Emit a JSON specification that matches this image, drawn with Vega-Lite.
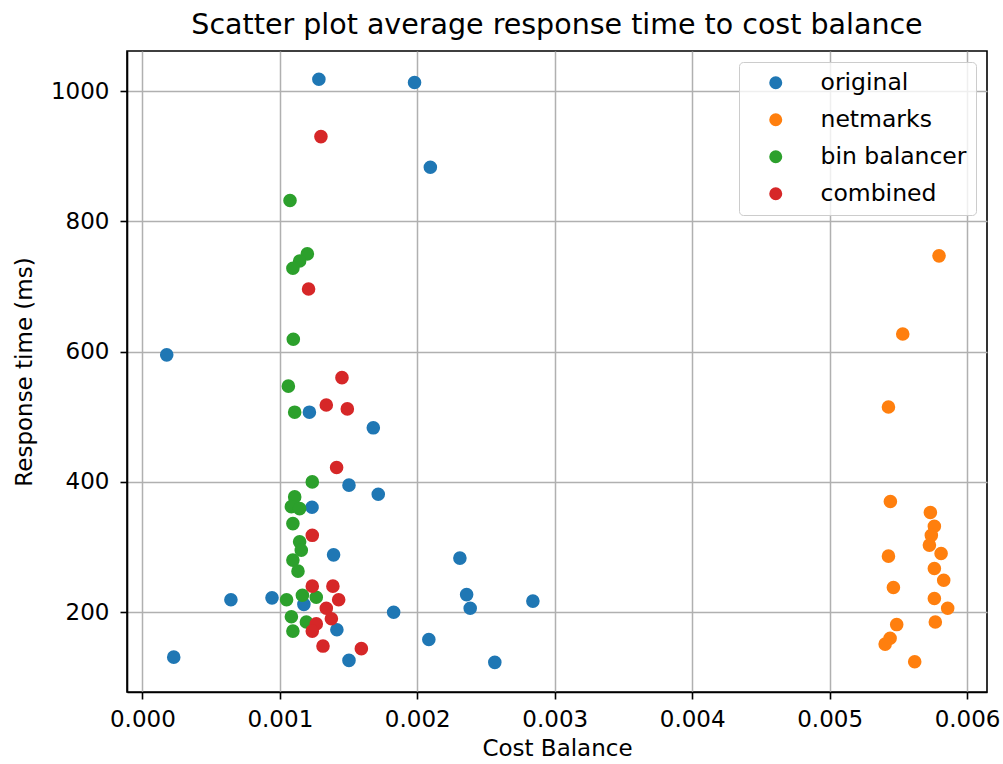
{
  "$schema": "https://vega.github.io/schema/vega-lite/v6.json",
  "width": 860,
  "height": 641,
  "autosize": {"type": "none"},
  "padding": {"left": 127, "top": 51, "right": 16, "bottom": 72},
  "background": "white",
  "title": {
    "text": "Scatter plot average response time to cost balance",
    "font": "DejaVu Sans",
    "fontSize": 28.5,
    "fontWeight": "normal",
    "color": "black",
    "anchor": "middle",
    "frame": "group",
    "offset": 12
  },
  "config": {
    "view": {"stroke": "black", "strokeWidth": 1.6},
    "axis": {
      "labelFont": "DejaVu Sans",
      "titleFont": "DejaVu Sans",
      "labelFontSize": 23,
      "titleFontSize": 23,
      "titleFontWeight": "normal",
      "labelColor": "black",
      "titleColor": "black",
      "domainColor": "black",
      "domainWidth": 1.6,
      "tickColor": "black",
      "tickWidth": 1.6,
      "tickSize": 7,
      "gridColor": "#b0b0b0",
      "gridWidth": 1.5,
      "gridOpacity": 1,
      "zindex": 1
    },
    "legend": {
      "labelFont": "DejaVu Sans",
      "labelFontSize": 23.5,
      "labelColor": "black"
    }
  },
  "data": {
    "values": [
      {"s": "original", "x": 0.001284, "y": 1018},
      {"s": "original", "x": 0.00198, "y": 1013},
      {"s": "original", "x": 0.002095, "y": 883},
      {"s": "original", "x": 0.000177, "y": 595},
      {"s": "original", "x": 0.001215, "y": 507},
      {"s": "original", "x": 0.00168, "y": 483},
      {"s": "original", "x": 0.001503, "y": 395},
      {"s": "original", "x": 0.001716, "y": 381},
      {"s": "original", "x": 0.001234, "y": 361},
      {"s": "original", "x": 0.001391, "y": 288},
      {"s": "original", "x": 0.00231, "y": 283},
      {"s": "original", "x": 0.002359, "y": 227},
      {"s": "original", "x": 0.000943, "y": 222},
      {"s": "original", "x": 0.000644, "y": 219},
      {"s": "original", "x": 0.002841, "y": 217},
      {"s": "original", "x": 0.001175, "y": 212},
      {"s": "original", "x": 0.002385, "y": 206},
      {"s": "original", "x": 0.001828, "y": 200},
      {"s": "original", "x": 0.001415, "y": 173},
      {"s": "original", "x": 0.002084, "y": 158},
      {"s": "original", "x": 0.000228, "y": 131},
      {"s": "original", "x": 0.001503, "y": 126},
      {"s": "original", "x": 0.002564, "y": 123},
      {"s": "netmarks", "x": 0.005796, "y": 747},
      {"s": "netmarks", "x": 0.005532, "y": 627},
      {"s": "netmarks", "x": 0.005428, "y": 515},
      {"s": "netmarks", "x": 0.005442, "y": 370},
      {"s": "netmarks", "x": 0.005733, "y": 353},
      {"s": "netmarks", "x": 0.005762, "y": 332},
      {"s": "netmarks", "x": 0.00574, "y": 318},
      {"s": "netmarks", "x": 0.005726, "y": 303},
      {"s": "netmarks", "x": 0.005811, "y": 290},
      {"s": "netmarks", "x": 0.005428, "y": 286},
      {"s": "netmarks", "x": 0.005762, "y": 267},
      {"s": "netmarks", "x": 0.00583, "y": 249},
      {"s": "netmarks", "x": 0.005464, "y": 238},
      {"s": "netmarks", "x": 0.005762, "y": 221},
      {"s": "netmarks", "x": 0.005859, "y": 206},
      {"s": "netmarks", "x": 0.005769, "y": 185},
      {"s": "netmarks", "x": 0.005488, "y": 181},
      {"s": "netmarks", "x": 0.00544, "y": 160},
      {"s": "netmarks", "x": 0.005404, "y": 151},
      {"s": "netmarks", "x": 0.005619, "y": 124},
      {"s": "bin balancer", "x": 0.001074, "y": 832},
      {"s": "bin balancer", "x": 0.0012, "y": 750},
      {"s": "bin balancer", "x": 0.001144, "y": 739},
      {"s": "bin balancer", "x": 0.001095, "y": 728},
      {"s": "bin balancer", "x": 0.001098, "y": 619},
      {"s": "bin balancer", "x": 0.001062, "y": 547},
      {"s": "bin balancer", "x": 0.001108, "y": 507},
      {"s": "bin balancer", "x": 0.001236, "y": 400},
      {"s": "bin balancer", "x": 0.001108, "y": 377},
      {"s": "bin balancer", "x": 0.001084, "y": 362},
      {"s": "bin balancer", "x": 0.001144, "y": 359},
      {"s": "bin balancer", "x": 0.001095, "y": 336},
      {"s": "bin balancer", "x": 0.001144, "y": 308},
      {"s": "bin balancer", "x": 0.001156, "y": 295},
      {"s": "bin balancer", "x": 0.001095, "y": 280},
      {"s": "bin balancer", "x": 0.001132, "y": 263},
      {"s": "bin balancer", "x": 0.001164, "y": 226},
      {"s": "bin balancer", "x": 0.001265, "y": 223},
      {"s": "bin balancer", "x": 0.001049, "y": 219},
      {"s": "bin balancer", "x": 0.001084, "y": 193},
      {"s": "bin balancer", "x": 0.001193, "y": 185},
      {"s": "bin balancer", "x": 0.001095, "y": 171},
      {"s": "combined", "x": 0.001299, "y": 930},
      {"s": "combined", "x": 0.001209, "y": 696},
      {"s": "combined", "x": 0.001452, "y": 560},
      {"s": "combined", "x": 0.001338, "y": 518},
      {"s": "combined", "x": 0.001491, "y": 512},
      {"s": "combined", "x": 0.001413, "y": 422},
      {"s": "combined", "x": 0.001236, "y": 318},
      {"s": "combined", "x": 0.001236, "y": 240},
      {"s": "combined", "x": 0.001386, "y": 240},
      {"s": "combined", "x": 0.001428, "y": 219},
      {"s": "combined", "x": 0.001338, "y": 206},
      {"s": "combined", "x": 0.001375, "y": 190},
      {"s": "combined", "x": 0.001265, "y": 182},
      {"s": "combined", "x": 0.001236, "y": 171},
      {"s": "combined", "x": 0.001314, "y": 148},
      {"s": "combined", "x": 0.001593, "y": 144}
    ]
  },
  "mark": {"type": "circle", "size": 185, "opacity": 1, "strokeWidth": 0},
  "encoding": {
    "x": {
      "field": "x",
      "type": "quantitative",
      "scale": {"domain": [-0.000112, 0.006145], "nice": false, "zero": false},
      "axis": {
        "title": "Cost Balance",
        "values": [0, 0.001, 0.002, 0.003, 0.004, 0.005, 0.006],
        "format": ".3f",
        "labelPadding": 9,
        "titlePadding": 6,
        "labelFlush": false
      }
    },
    "y": {
      "field": "y",
      "type": "quantitative",
      "scale": {"domain": [77.5, 1061.4], "nice": false, "zero": false},
      "axis": {
        "title": "Response time (ms)",
        "values": [200, 400, 600, 800, 1000],
        "format": "d",
        "labelPadding": 11,
        "titlePadding": 14
      }
    },
    "color": {
      "field": "s",
      "type": "nominal",
      "sort": null,
      "scale": {
        "domain": ["original", "netmarks", "bin balancer", "combined"],
        "range": ["#1f77b4", "#ff7f0e", "#2ca02c", "#d62728"]
      },
      "legend": {
        "title": null,
        "orient": "top-right",
        "offset": 11,
        "fillColor": "rgba(255,255,255,0.8)",
        "strokeColor": "#cccccc",
        "cornerRadius": 4,
        "padding": 9,
        "symbolType": "circle",
        "symbolSize": 170,
        "symbolOpacity": 1,
        "symbolStrokeWidth": 0,
        "symbolOffset": 16,
        "labelOffset": 33,
        "rowPadding": 12
      }
    }
  }
}
